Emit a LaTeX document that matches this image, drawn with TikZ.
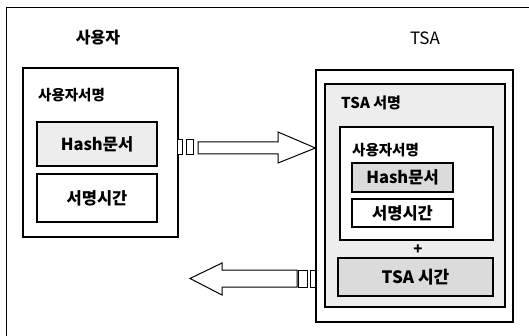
\documentclass[tikz,border=0pt]{standalone}
\usepackage{fontspec}
\setmainfont{Noto Sans CJK KR}
\usetikzlibrary{positioning}
\tikzset{
  box/.style={draw=black, line width=1.1pt, inner sep=0pt, fill=white},
  grayA/.style={box, fill=gray!14},
  grayB/.style={box, fill=gray!28},
  lbl/.style={inner sep=0pt, font=\fontsize{14.5}{14}\selectfont\bfseries},
  ttl/.style={inner sep=0pt, font=\fontsize{16}{16}\selectfont\bfseries},
  btxt/.style={font=\fontsize{16.5}{16}\selectfont\bfseries},
  hollow/.style={draw=black, line width=1pt, fill=white, line join=miter}
}
\begin{document}
\begin{tikzpicture}[x=1pt,y=-1pt]
\useasboundingbox (0,0) rectangle (529,336);
\fill[white] (0,0) rectangle (529,336);
% outer frame (cropped at right and bottom)
\draw[line width=0.9pt] (6,340) -- (6,7) -- (540,7);

% titles
\node[ttl] (tuser) at (98,38) {사용자};
\node[ttl, font=\fontsize{17}{17}\selectfont] (ttsa) at (425,38) {TSA};

% user side
\node[box, minimum width=155pt, minimum height=169pt] (ubox) at (100.5,152.5) {};
\node[lbl, anchor=west] (ulbl) at (38,95) {사용자서명};
\node[grayA, minimum width=120pt, minimum height=44pt, btxt] (uhash) at (97,144) {Hash문서};
\node[box, minimum width=120pt, minimum height=48pt, btxt] (utime) at (97,198) {서명시간};

% TSA side
\node[box, minimum width=197pt, minimum height=252pt] (tout) at (414.5,196) {};
\node[grayA, minimum width=180pt, minimum height=223pt] (tmid) at (415,195.5) {};
\node[lbl, anchor=west, font=\fontsize{15}{15}\selectfont\bfseries] (tsalbl) at (341,103) {TSA 서명};
\node[box, minimum width=153pt, minimum height=113pt] (tin) at (416.5,183.5) {};
\node[lbl, anchor=west] (tinlbl) at (352,150) {사용자서명};
\node[grayB, minimum width=101pt, minimum height=29pt, btxt] (thash) at (402.5,177.5) {Hash문서};
\node[box, minimum width=101pt, minimum height=28pt, btxt] (ttime) at (402.5,213) {서명시간};
\node[inner sep=0pt, font=\fontsize{15}{15}\selectfont\bfseries] (plus) at (418,250) {+};
\node[grayB, minimum width=155pt, minimum height=38pt, font=\fontsize{17}{17}\selectfont\bfseries] (tsatime) at (415.5,277) {TSA 시간};

% right arrow (user -> TSA)
\draw[hollow] (177,140) rectangle (182,155);
\draw[hollow] (186,140) rectangle (193,155);
\draw[hollow] (198,142) -- (278,142) -- (278,132) -- (tout.west |- 0,148) -- (278,163) -- (278,154) -- (198,154) -- cycle;

% left arrow (TSA -> user)
\draw[hollow] (310,270) rectangle (315,287);
\draw[hollow] (298,270) rectangle (307,287);
\draw[hollow] (297,270) -- (222,270) -- (222,263) -- (190,278.5) -- (222,295) -- (222,287) -- (297,287) -- cycle;
\end{tikzpicture}
\end{document}
